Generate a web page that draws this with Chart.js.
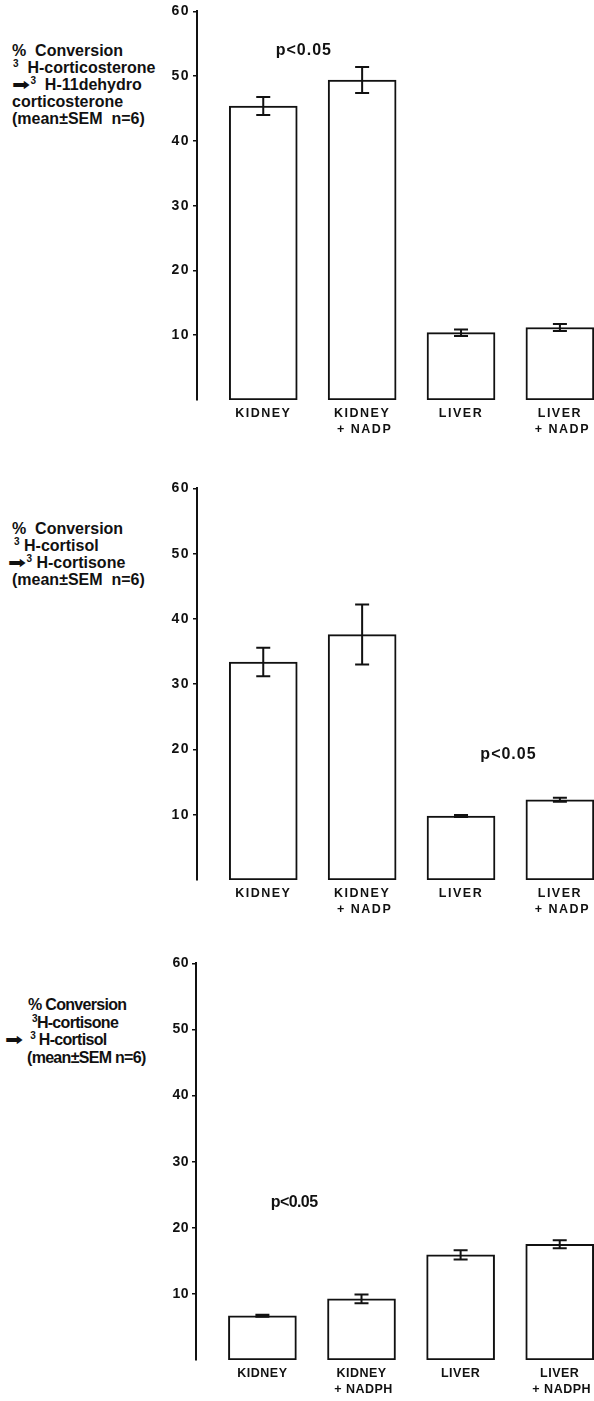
<!DOCTYPE html>
<html>
<head>
<meta charset="utf-8">
<script src="https://cdn.jsdelivr.net/npm/chart.js@4"></script>
<style>
  html, body { margin: 0; padding: 0; background: #fff; }
  body { width: 594px; height: 1401px; overflow: hidden; position: relative; }
  .panel { position: absolute; left: 0; }
  .ylabel { position: absolute; font-family: "Liberation Sans", Arial, sans-serif; font-weight: bold; font-size: 16px; line-height: 17px; color: #111; }
  .ylabel div { position: relative; white-space: pre; height: 17px; }
  .ylabel sup { font-size: 10px; vertical-align: 6px; line-height: 0; }
  .arrow { font-family: "DejaVu Sans", sans-serif; font-size: 16px; line-height: 0; display: inline-block; transform: scaleX(1.35); transform-origin: left center; margin-right: 5px; }
  .narrow { letter-spacing: -0.7px; }
  .narrow div { height: 17.5px; }
</style>
</head>
<body>

<!-- Y AXIS TITLES -->
<div class="ylabel" style="left:0; top:42px;">
<div style="left:12px;">%  Conversion</div>
<div style="left:13px;"><sup>3</sup>  H-corticosterone</div>
<div style="left:12px;"><span class="arrow">➡</span><sup>3</sup>  H-11dehydro</div>
<div style="left:12px;">corticosterone</div>
<div style="left:12px;">(mean±SEM  n=6)</div>
</div>

<div class="ylabel" style="left:0; top:520px;">
<div style="left:12px;">%  Conversion</div>
<div style="left:14px;"><sup>3</sup> H-cortisol</div>
<div style="left:8px;"><span class="arrow">➡</span><sup>3</sup> H-cortisone</div>
<div style="left:12px;">(mean±SEM  n=6)</div>
</div>

<div class="ylabel narrow" style="left:0; top:996px;">
<div style="left:28px;">% Conversion</div>
<div style="left:32px;"><sup>3</sup>H-cortisone</div>
<div style="left:5px;"><span class="arrow">➡</span>  <sup>3</sup> H-cortisol</div>
<div style="left:27px;">(mean±SEM n=6)</div>
</div>

<div class="panel" style="top:0px;"><canvas id="chart1" width="640" height="445"></canvas></div>
<div class="panel" style="top:477px;"><canvas id="chart2" width="640" height="448"></canvas></div>
<div class="panel" style="top:952px;"><canvas id="chart3" width="640" height="453"></canvas></div>

<script>
// DATA
const labelsNadp = [['KIDNEY'], ['KIDNEY', ' + NADP'], ['LIVER'], ['LIVER', ' + NADP']];
const labelsNadph = [['KIDNEY'], ['KIDNEY', ' + NADPH'], ['LIVER'], ['LIVER', ' + NADPH']];
const yTicks = [10, 20, 30, 40, 50, 60];

// 3H-corticosterone -> 3H-11dehydrocorticosterone
const corticosteroneMean = [45.4, 49.4, 10.4, 11.2];
const corticosteroneSem = [1.4, 2.0, 0.5, 0.55];

// 3H-cortisol -> 3H-cortisone
const cortisolMean = [33.4, 37.6, 9.8, 12.3];
const cortisolSem = [2.2, 4.6, 0.15, 0.3];

// 3H-cortisone -> 3H-cortisol
const cortisoneMean = [6.7, 9.25, 15.9, 17.5];
const cortisoneSem = [0.15, 0.65, 0.7, 0.6];

// ERROR BARS + P VALUE TEXT
const errorBarPlugin = {
	id: 'errorBars',
	beforeDraw(chart, args, opts){
		chart.ctx.letterSpacing = opts.spacing || '0px';
	},
	afterDatasetsDraw(chart, args, opts){
		const ctx = chart.ctx;
		const meta = chart.getDatasetMeta(0);
		const yScale = chart.scales.y;
		const xScale = chart.scales.x;
		ctx.save();
		ctx.strokeStyle = '#111';
		ctx.lineWidth = 2;
		meta.data.forEach( (bar, i) => {
			let m = opts.mean[i], s = opts.sem[i];
			let top = yScale.getPixelForValue(m + s);
			let bottom = yScale.getPixelForValue(m - s);
			ctx.beginPath();
			ctx.moveTo(bar.x, top);
			ctx.lineTo(bar.x, bottom);
			ctx.moveTo(bar.x - 7, top);
			ctx.lineTo(bar.x + 7, top);
			ctx.moveTo(bar.x - 7, bottom);
			ctx.lineTo(bar.x + 7, bottom);
			ctx.stroke();
		});
		// significance note
		ctx.fillStyle = '#111';
		ctx.font = opts.noteFont;
		ctx.letterSpacing = opts.noteSpacing;
		ctx.textAlign = 'center';
		ctx.textBaseline = 'middle';
		ctx.fillText('p<0.05', xScale.getPixelForValue(opts.note.x), yScale.getPixelForValue(opts.note.y));
		ctx.restore();
	},
	afterDraw(chart){
		chart.ctx.letterSpacing = '0px';
	}
};

function makeChart(id, labels, mean, sem, axisWidth, extra){
	const ctx = document.getElementById(id).getContext('2d');
	return new Chart(ctx, {
		type: 'bar',
		data: {
			datasets: [{
				data: mean.map( (v, i) => ({ x: i, y: v }) ),
				backgroundColor: '#fff',
				borderColor: '#111',
				borderWidth: 2,
				borderSkipped: false,
				barThickness: 68
			}]
		},
		options: {
			responsive: false,
			animation: false,
			devicePixelRatio: 1,
			layout: { padding: { top: 10, left: 0, right: 0, bottom: 0 } },
			plugins: {
				legend: { display: false },
				tooltip: { enabled: false },
				errorBars: {
					mean: mean,
					sem: sem,
					spacing: extra.spacing,
					note: extra.note,
					noteFont: extra.noteFont,
					noteSpacing: extra.noteSpacing
				}
			},
			scales: {
				x: {
					type: 'linear',
					offset: false,
					min: -0.67,
					max: 3.81,
					grid: { display: false, drawTicks: false },
					border: { display: false },
					afterBuildTicks: scale => { scale.ticks = labels.map( (l, i) => ({ value: i }) ); },
					afterFit: scale => { scale.height = 45; },
					ticks: {
						padding: 6,
						color: '#111',
						maxRotation: 0,
						autoSkip: false,
						font: { family: 'Liberation Sans', weight: 'bold', size: 12.5, lineHeight: 1.25 },
						callback: value => labels[value]
					}
				},
				y: {
					min: 0,
					max: 60,
					afterBuildTicks: scale => { scale.ticks = yTicks.map( v => ({ value: v }) ); },
					afterFit: scale => { scale.width = axisWidth; },
					border: { display: true, color: '#111', width: 2 },
					grid: { drawOnChartArea: false, drawTicks: true, tickLength: 4, color: '#111', lineWidth: 1.5 },
					ticks: {
						padding: 3,
						color: '#111',
						font: { family: 'Liberation Sans', weight: 'bold', size: extra.tickSize }
					}
				}
			}
		},
		plugins: [errorBarPlugin]
	});
}

makeChart('chart1', labelsNadp, corticosteroneMean, corticosteroneSem, 197, {
	spacing: '1.5px', tickSize: 14, note: { x: 0.41, y: 54 },
	noteFont: 'bold 16px "Liberation Sans"', noteSpacing: '1px'
});
makeChart('chart2', labelsNadp, cortisolMean, cortisolSem, 197, {
	spacing: '1.5px', tickSize: 14, note: { x: 2.48, y: 19.2 },
	noteFont: 'bold 16px "Liberation Sans"', noteSpacing: '1px'
});
makeChart('chart3', labelsNadph, cortisoneMean, cortisoneSem, 196, {
	spacing: '0.5px', tickSize: 14, note: { x: 0.32, y: 23.8 },
	noteFont: 'bold 16px "Liberation Sans"', noteSpacing: '-0.6px'
});
</script>
</body>
</html>
